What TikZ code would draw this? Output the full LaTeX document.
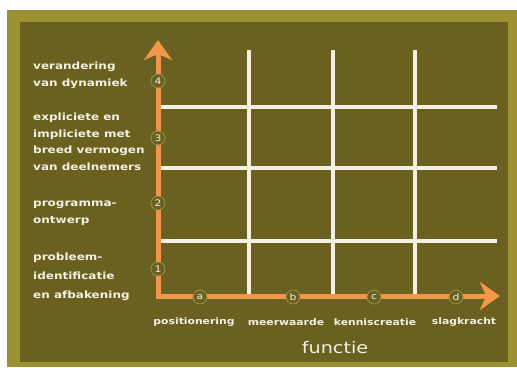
\documentclass[tikz,border=0pt]{standalone}
\usepackage{fontspec}
\setmainfont{DejaVu Sans}[FakeStretch=1.2]
\usepackage{tikz}
\usetikzlibrary{positioning,arrows.meta}
\definecolor{Board}{HTML}{6A6020}
\definecolor{Frame}{HTML}{9C9132}
\definecolor{Chalk}{HTML}{F4F1E2}
\definecolor{Axis}{HTML}{F2974A}
\definecolor{Ring}{HTML}{9A9050}

\begin{document}
\begin{tikzpicture}[x=1pt,y=-1pt,
  lbl/.style={font=\fontsize{10}{16.5}\selectfont\bfseries,text=Chalk,align=left,anchor=west,inner sep=0pt},
  xlbl/.style={font=\fontsize{9}{12}\selectfont\bfseries,text=Chalk,inner sep=0pt},
  tick/.style={circle,draw=Ring,fill=Board,line width=0.8pt,inner sep=0pt,minimum size=14pt,text=Chalk,font=\fontsize{9}{9}\selectfont},
  axis/.style={Axis,line width=5pt},
  gridline/.style={Chalk,line width=3.5pt}]
  \useasboundingbox[fill=white] (0,0) rectangle (517,367);
  \fill[Frame] (7,10) rectangle (517,367);
  \fill[Board] (20,22) rectangle (508,362);
  % grid
  \foreach \x in {249,333,415}{\draw[gridline] (\x,50)--(\x,296);}
  \foreach \y in {107,168,241}{\draw[gridline] (161,\y)--(497,\y);}
  % axes
  \coordinate (origin) at (158,296);
  \coordinate (ytip) at (158,40);
  \coordinate (xtip) at (500,296);
  \draw[axis,{Stealth[length=20pt,width=28pt,inset=6pt]}-{Stealth[length=20pt,width=28pt,inset=6pt]}] (ytip) -- (origin) -- (xtip);
  \node[tick] (q1) at (158,269) {1};
  \node[tick] (q2) at (158,203) {2};
  \node[tick] (q3) at (158,138) {3};
  \node[tick] (q4) at (158,81) {4};
  \node[tick] (pa) at (200,297) {a};
  \node[tick] (pb) at (293,297) {b};
  \node[tick] (pc) at (374,297) {c};
  \node[tick] (pd) at (456,297) {d};
  % labels
  \node[lbl] (dyn) at (33,75.5) {verandering\\van dynamiek};
  \node[lbl] (expl) at (33,142) {expliciete en\\impliciete met\\breed vermogen\\van deelnemers};
  \node[lbl] (prog) at (33,213) {programma-\\ontwerp};
  \node[lbl,font=\fontsize{10}{19}\selectfont\bfseries] (prob) at (33,277) {probleem-\\identificatie\\en afbakening};
  \node[xlbl] (pos) at (194,322) {positionering};
  \node[xlbl] (meer) at (286,322) {meerwaarde};
  \node[xlbl] (kennis) at (375,322) {kenniscreatie};
  \node[xlbl] (slag) at (464,322) {slagkracht};
  \node[xlbl,font=\fontsize{16}{16}\selectfont] (func) at (335,348) {functie};
\end{tikzpicture}
\end{document}
